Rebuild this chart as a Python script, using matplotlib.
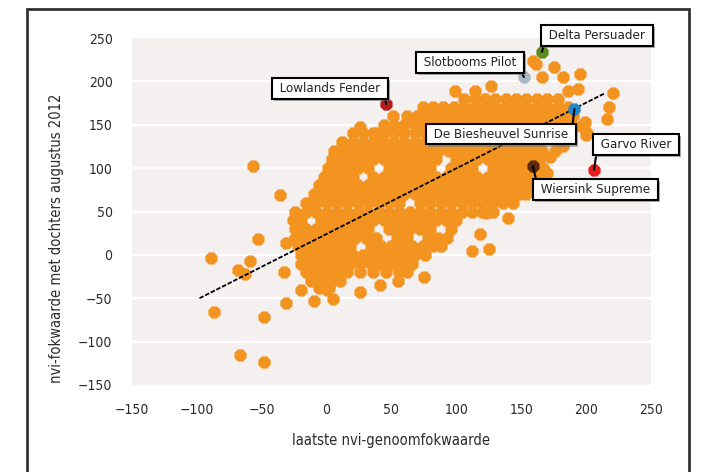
import matplotlib
matplotlib.use("Agg")
import matplotlib.pyplot as plt
import matplotlib.patheffects as pe
from matplotlib.patches import Rectangle

plt.rcParams['font.family'] = ['DejaVu Sans']
plt.rcParams['font.stretch'] = 'condensed'

# cloud of bulls (y level, x values)
row_y = [180, 170, 160, 150, 140, 130, 120, 110, 100, 90, 80, 70, 60, 50, 40, 30, 20, 10, 0, -10, -20, -30, -38]
row_x = [
    [106, 114, 122, 130, 138, 146, 154, 162, 170, 178],
    [74, 82, 90, 98, 106, 114, 122, 130, 138, 146, 154, 162, 170, 178, 186],
    [62, 70, 78, 86, 94, 102, 110, 118, 126, 134, 142, 150, 158, 166, 174, 182, 190],
    [44, 52, 60, 68, 76, 84, 92, 100, 108, 116, 124, 132, 140, 148, 156, 164, 172, 180, 188, 198],
    [20, 28, 36, 44, 52, 60, 68, 76, 84, 92, 100, 108, 116, 124, 132, 140, 148, 156, 164, 172, 180, 201],
    [12, 20, 28, 36, 44, 52, 60, 68, 76, 84, 92, 100, 108, 116, 124, 132, 140, 148, 156, 164],
    [6, 14, 22, 30, 38, 46, 54, 62, 70, 78, 86, 94, 102, 110, 118, 126, 134, 142, 150, 158, 166, 176],
    [4, 12, 20, 28, 36, 44, 52, 60, 68, 76, 84, 100, 108, 116, 124, 132, 140, 148, 156, 164],
    [1, 8, 16, 24, 32, 48, 56, 64, 72, 80, 96, 104, 112, 128, 136, 144, 152, 160, 167],
    [-2, 4, 12, 20, 36, 44, 52, 60, 68, 76, 84, 92, 100, 108, 116, 124, 132, 140, 148, 156, 164],
    [-6, 0, 8, 16, 24, 32, 40, 48, 56, 64, 72, 80, 88, 96, 104, 112, 120, 128, 136, 144, 152, 159],
    [-10, -4, 4, 12, 20, 28, 36, 44, 52, 60, 68, 76, 84, 92, 100, 108, 116, 124, 132, 140, 148, 154],
    [-16, -8, 0, 8, 16, 24, 32, 40, 48, 56, 72, 80, 88, 96, 104, 112, 120, 128, 136, 144],
    [-24, -16, -8, 0, 8, 16, 24, 32, 40, 48, 56, 64, 72, 80, 88, 96, 104, 112, 120, 128],
    [-26, -20, -4, 4, 12, 20, 28, 36, 44, 52, 60, 68, 76, 84, 92, 100],
    [-24, -16, -8, 0, 8, 16, 24, 32, 48, 56, 64, 72, 80, 96],
    [-24, -18, -10, -2, 6, 14, 22, 30, 38, 54, 62, 78, 86, 93],
    [-22, -14, -6, 2, 10, 18, 34, 42, 50, 58, 66, 74, 82, 88],
    [-20, -12, -4, 4, 12, 20, 28, 36, 44, 52, 60, 68, 76],
    [-20, -14, -6, 2, 10, 18, 26, 34, 42, 50, 58, 66],
    [-16, -8, 0, 8, 16, 26, 36, 46, 56, 62],
    [-12, -4, 4, 10],
    [-6, 2],
]

# loose points around the cloud
extra_x = [-31, -10, 5, 0, -20, -33, -31, 26, 41, 55, 75, 112, 125, 118, 123, 140,
           -57, -36, -53, -89, -59, -68, -63, -87, -48, -67, -48,
           99, 114, 127, 159, 161, 175, 166, 182, 195, 186, 194, 221, 218, 216,
           200, 199, 164, 172, 170, 182, 196, 26, 39, -5, -13, 51, 72]
extra_y = [-55, -53, -51, -40, -40, -20, 14, -43, -35, -30, -26, 4, 7, 24, 48, 43,
           102, 69, 18, -4, -7, -18, -22, -66, -72, -115, -123,
           189, 189, 195, 223, 220, 217, 205, 205, 208, 189, 191, 187, 170, 157,
           138, 153, 121, 113, 94, 125, 148, 147, 140, 69, 56, 160, 161]

# named bulls
names = ['Lowlands Fender', 'Slotbooms Pilot', 'Delta Persuader',
         'De Biesheuvel Sunrise', 'Garvo River', 'Wiersink Supreme']
named_x = [46, 152, 166, 191, 206, 159]
named_y = [174, 205, 234, 168, 98, 102]
named_colors = ['#b51a1f', '#a9b9c6', '#5b8a1f', '#1d88cf', '#e4211f', '#5a2a0c']

# regression line
trend_x = [-98, 214]
trend_y = [-50, 186]

cloud_x = []
cloud_y = []
for y, xs in zip(row_y, row_x):
    cloud_x += xs
    cloud_y += [y] * len(xs)
cloud_x += extra_x
cloud_y += extra_y

fig = plt.figure(figsize=(7.05, 4.72), dpi=100)
ax = fig.add_axes([132 / 705, 1 - 385 / 472, (651 - 132) / 705, (385 - 38) / 472])
ax.set_facecolor('#f4f0ef')

ticks = list(range(-150, 251, 50))
tick_labels = ['\u2212150', '\u2212100', '\u221250', '0', '50', '100', '150', '200', '250']
ax.set_xlim(-150, 250)
ax.set_ylim(-150, 250)
ax.set_xticks(ticks)
ax.set_yticks(ticks)
ax.set_xticklabels(tick_labels)
ax.set_yticklabels(tick_labels)
for y in range(-100, 250, 50):
    ax.axhline(y, color='white', lw=1.6, zorder=1)
for s in ax.spines.values():
    s.set_visible(False)
ax.tick_params(length=0, labelsize=10, colors='#2b2b2b')
ax.tick_params(axis='y', pad=14)
ax.tick_params(axis='x', pad=13)

ax.scatter(cloud_x, cloud_y, s=90, marker='8', color='#f39320', linewidths=0, zorder=2)
ax.plot(trend_x, trend_y, color='black', lw=1.3, ls=(0, (2.5, 1)), zorder=3)

offsets = [(-2.4, 8.6), (-3.7, 7.7), (3.0, 10.3), (-2.3, -18.4), (3.0, 19.0), (4.0, -16.6)]
aligns = [('right', 'bottom'), ('right', 'bottom'), ('left', 'bottom'),
          ('right', 'top'), ('left', 'bottom'), ('left', 'top')]
for name, x, y, c, off, (ha, va) in zip(names, named_x, named_y, named_colors, offsets, aligns):
    ax.scatter([x], [y], s=90, marker='8', color=c, linewidths=0, zorder=4)
    relpos = (1 if ha == 'right' else 0, 0 if va == 'bottom' else 1)
    ann = ax.annotate(' ' + name + ' ', xy=(x, y), xytext=off, textcoords='offset pixels',
                      ha=ha, va=va, fontsize=9.5, color='#222222', zorder=6,
                      bbox=dict(boxstyle='square,pad=0.3', fc='white', ec='black', lw=1.5),
                      arrowprops=dict(arrowstyle='-', color='black', lw=1.5,
                                      relpos=relpos, shrinkA=0, shrinkB=0))
    ann.get_bbox_patch().set_path_effects([
        pe.SimplePatchShadow(offset=(1.5, -1.5), shadow_rgbFace='#777777', alpha=0.6),
        pe.Normal()])

fig.text(391 / 705, 1 - 440 / 472, 'laatste nvi-genoomfokwaarde', ha='center', va='center',
         fontsize=10.5, color='#2b2b2b')
fig.text(57 / 705, 1 - 238 / 472, 'nvi-fokwaarde met dochters augustus 2012', ha='center',
         va='center', rotation=90, fontsize=10.5, color='#2b2b2b')

fig.patches.append(Rectangle((27 / 705, -0.1), (689 - 27) / 705, 1 - 9 / 472 + 0.1,
                             transform=fig.transFigure, fill=False, ec='#333333', lw=2))

fig.savefig('out.png', dpi=100)
